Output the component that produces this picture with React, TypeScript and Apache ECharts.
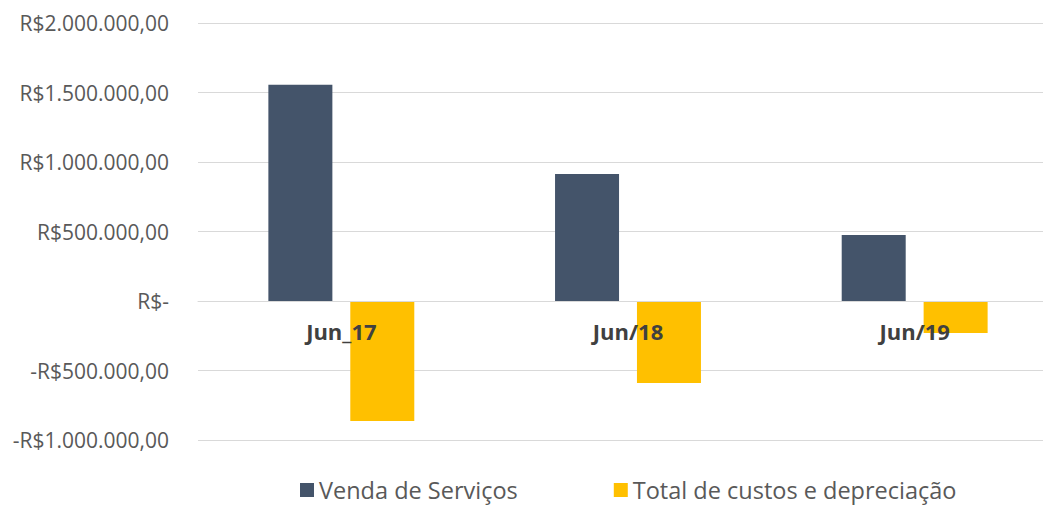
import React, { useEffect, useRef } from "react";
import * as echarts from "echarts";

const categories = ["Jun_17", "Jun/18", "Jun/19"];
const vendaServicos = [1555000, 914000, 475000];
const totalCustos = [-863000, -590000, -230000];
const seriesNames = ["Venda de Serviços", "Total de custos e depreciação"];

function fmt(v: number): string {
  if (v === 0) return "R$-";
  const abs = Math.abs(v);
  const s = Math.round(abs).toString().replace(/\B(?=(\d{3})+(?!\d))/g, ".");
  return (v < 0 ? "-" : "") + "R$" + s + ",00";
}

export default function App() {
  const ref = useRef<HTMLDivElement>(null);
  useEffect(() => {
    document.body.style.margin = "0";
    const chart = echarts.init(ref.current!, null, { renderer: "svg" });
    chart.setOption({
      animation: false,
      grid: { left: 198, right: 2, top: 23, bottom: 67, containLabel: false },
      legend: {
        bottom: 0,
        left: 295,
        itemWidth: 14,
        itemHeight: 14,
        itemGap: 96,
        icon: "rect",
        textStyle: { fontFamily: "Open Sans", fontSize: 23.5, color: "#595959", padding: [0, 0, 0, 0] },
        data: seriesNames,
      },
      xAxis: {
        type: "category",
        data: categories,
        offset: -139,
        z: 10,
        axisLine: { onZero: false, lineStyle: { color: "#d9d9d9", width: 1 } },
        axisTick: { show: false },
        axisLabel: {
          fontFamily: "Open Sans",
          fontWeight: "bold",
          fontSize: 22,
          color: "#404040",
          margin: 19,
        },
      },
      yAxis: {
        type: "value",
        min: -1000000,
        max: 2000000,
        interval: 500000,
        axisLine: { show: false },
        axisTick: { show: false },
        splitLine: { lineStyle: { color: "#d9d9d9", width: 1 } },
        axisLabel: {
          formatter: (v: number) => fmt(v),
          fontFamily: "Open Sans",
          fontSize: 21,
          color: "#595959",
          margin: 29,
        },
      },
      series: [
        {
          name: seriesNames[0],
          type: "bar",
          data: vendaServicos,
          barWidth: 64,
          barGap: "28%",
          itemStyle: { color: "#44546a" },
        },
        {
          name: seriesNames[1],
          type: "bar",
          data: totalCustos,
          barWidth: 64,
          itemStyle: { color: "#ffc000" },
        },
      ],
    });
    return () => chart.dispose();
  }, []);
  return (
    <div style={{ width: 1043, height: 507, overflow: "hidden", position: "relative" }}>
      <div ref={ref} style={{ width: 1060, height: 507 }} />
    </div>
  );
}
